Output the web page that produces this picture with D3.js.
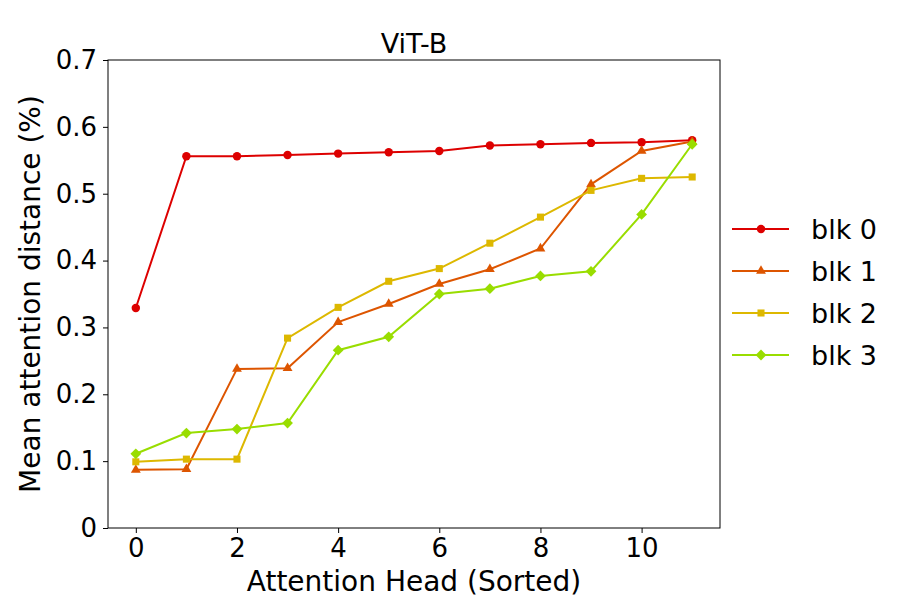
<!DOCTYPE html>
<html>
<head>
<meta charset="utf-8">
<script src="https://cdn.jsdelivr.net/npm/d3@7"></script>
<style>
  body { margin: 0; background: #fff; }
  text { font-family: "DejaVu Sans", sans-serif; fill: #000; }
</style>
</head>
<body>
<div id="app"></div>
<script>
const heads = [0, 1, 2, 3, 4, 5, 6, 7, 8, 9, 10, 11];
const blk0 = [0.329, 0.556, 0.556, 0.558, 0.560, 0.562, 0.564, 0.572, 0.574, 0.576, 0.577, 0.580];
const blk1 = [0.087, 0.088, 0.238, 0.239, 0.308, 0.335, 0.365, 0.387, 0.418, 0.514, 0.564, 0.578];
const blk2 = [0.099, 0.103, 0.103, 0.284, 0.330, 0.369, 0.388, 0.426, 0.465, 0.505, 0.523, 0.525];
const blk3 = [0.111, 0.142, 0.148, 0.157, 0.266, 0.286, 0.350, 0.358, 0.377, 0.384, 0.469, 0.574];
const seriesNames = ["blk 0", "blk 1", "blk 2", "blk 3"];
const seriesColors = ["#dd0000", "#dd5500", "#ddb800", "#99dd00"];
const yTicks = [0, 0.1, 0.2, 0.3, 0.4, 0.5, 0.6, 0.7];
const xTicks = [0, 2, 4, 6, 8, 10];

const W = 900, H = 600;
const plotLeft = 108, plotRight = 720, plotTop = 60, plotBottom = 528;

const svg = d3.select("#app").append("svg")
    .attr("width", W)
    .attr("height", H);

const x = d3.scaleLinear([-0.55, 11.55], [plotLeft, plotRight]);
const y = d3.scaleLinear([0, 0.7], [plotBottom, plotTop]);

// matplotlib-like markers: circle, triangle, square, diamond (rotated square)
const markers = [
    { type: d3.symbolCircle, size: 56, rotate: 0 },
    { type: d3.symbolTriangle, size: 42, rotate: 0 },
    { type: d3.symbolSquare, size: 50, rotate: 0 },
    { type: d3.symbolSquare, size: 58, rotate: 45 }
];

const series = [blk0, blk1, blk2, blk3].map((vals, i) => ({
    name: seriesNames[i],
    color: seriesColors[i],
    marker: markers[i],
    points: heads.map((h, j) => [h, vals[j]])
}));

// axes
const xAxis = svg.append("g")
    .attr("transform", `translate(0,${plotBottom})`)
    .call(d3.axisBottom(x).tickValues(xTicks).tickSize(5).tickPadding(6).tickFormat(d3.format("d")));
const yAxis = svg.append("g")
    .attr("transform", `translate(${plotLeft},0)`)
    .call(d3.axisLeft(y).tickValues(yTicks).tickSize(5).tickPadding(6).tickFormat(d => d === 0 ? "0" : d3.format(".1f")(d)));

[xAxis, yAxis].forEach(a => {
    a.select(".domain").remove();
    a.selectAll(".tick line").attr("stroke", "#000").attr("stroke-width", 1);
    a.selectAll(".tick text").style("font-size", "26px").attr("fill", "#000");
});

svg.append("rect")
    .attr("x", plotLeft).attr("y", plotTop)
    .attr("width", plotRight - plotLeft).attr("height", plotBottom - plotTop)
    .attr("fill", "none").attr("stroke", "#000").attr("stroke-width", 1);

const line = d3.line().x(d => x(d[0])).y(d => y(d[1]));

const plot = svg.append("g");
series.forEach(s => {
    plot.append("path")
        .attr("d", line(s.points))
        .attr("fill", "none")
        .attr("stroke", s.color)
        .attr("stroke-width", 2);
    plot.selectAll(null)
        .data(s.points)
        .join("path")
        .attr("transform", d => `translate(${x(d[0])},${y(d[1])}) rotate(${s.marker.rotate})`)
        .attr("d", d3.symbol(s.marker.type, s.marker.size))
        .attr("fill", s.color);
});

// title and labels
svg.append("text")
    .attr("x", (plotLeft + plotRight) / 2).attr("y", 53)
    .attr("text-anchor", "middle")
    .style("font-size", "27px")
    .text("ViT-B");

svg.append("text")
    .attr("x", (plotLeft + plotRight) / 2).attr("y", 591)
    .attr("text-anchor", "middle")
    .style("font-size", "28px")
    .text("Attention Head (Sorted)");

svg.append("text")
    .attr("transform", `translate(40,${(plotTop + plotBottom) / 2}) rotate(-90)`)
    .attr("text-anchor", "middle")
    .style("font-size", "28px")
    .text("Mean attention distance (%)");

// legend
const legend = svg.append("g");
series.forEach((s, i) => {
    const ly = 229 + i * 42;
    legend.append("line")
        .attr("x1", 732).attr("x2", 789)
        .attr("y1", ly).attr("y2", ly)
        .attr("stroke", s.color).attr("stroke-width", 2);
    legend.append("path")
        .attr("transform", `translate(761,${ly}) rotate(${s.marker.rotate})`)
        .attr("d", d3.symbol(s.marker.type, s.marker.size))
        .attr("fill", s.color);
    legend.append("text")
        .attr("x", 811).attr("y", ly)
        .attr("dy", "0.36em")
        .style("font-size", "27px")
        .text(s.name);
});
</script>
</body>
</html>
